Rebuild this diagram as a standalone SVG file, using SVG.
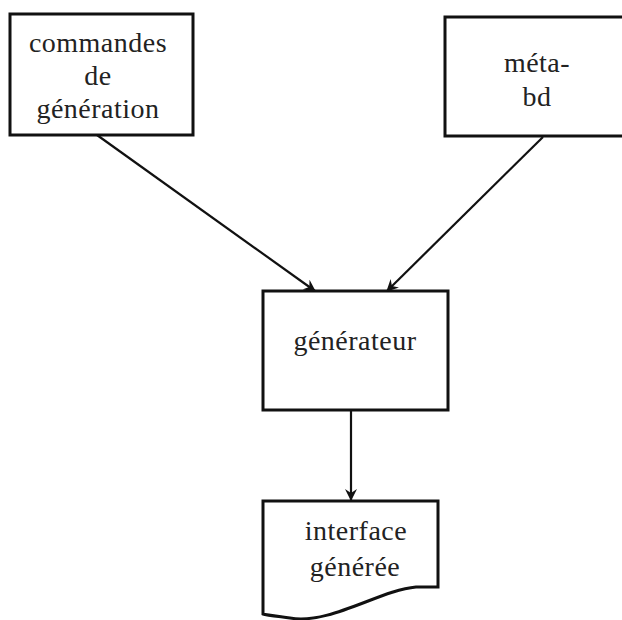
<svg xmlns="http://www.w3.org/2000/svg" width="622" height="620" viewBox="0 0 622 620">
<style>
.box{fill:none;stroke:#111;stroke-width:3}
.t{font-family:"Liberation Serif",serif;font-size:28px;fill:#222;text-anchor:middle;letter-spacing:0.5px}
.c{stroke:#111;stroke-width:2.2;fill:none}
</style>
<defs>
<marker id="ah" viewBox="0 0 12 12" refX="11" refY="6" markerWidth="12" markerHeight="12" markerUnits="userSpaceOnUse" orient="auto">
<path d="M0,0 L12,6 L0,12 L4,6 Z" fill="#111"/>
</marker>
</defs>
<rect width="622" height="620" fill="#fff"/>
<g id="commandes">
<rect class="box" x="10" y="14" width="183" height="121"/>
<text class="t" x="98" y="52">commandes</text>
<text class="t" x="98" y="85">de</text>
<text class="t" x="98" y="118">génération</text>
</g>
<g id="metabd">
<path class="box" d="M630,17 H445 V136 H630"/>
<text class="t" x="537" y="72">méta-</text>
<text class="t" x="537" y="106">bd</text>
</g>
<g id="generateur">
<rect class="box" x="263" y="291" width="185" height="119"/>
<text class="t" x="355" y="350">générateur</text>
</g>
<g id="interface">
<path class="box" d="M263,614 V501 H438 V587 H416 C380,590 330,625 290,618 C275,616 266,615 263,614 Z"/>
<text class="t" x="356" y="540">interface</text>
<text class="t" x="355" y="576">générée</text>
</g>
<g id="connectors">
<line class="c" x1="97" y1="135" x2="315" y2="291" marker-end="url(#ah)"/>
<line class="c" x1="543" y1="137" x2="387" y2="291" marker-end="url(#ah)"/>
<line class="c" x1="351" y1="410" x2="351" y2="500" marker-end="url(#ah)"/>
</g>
</svg>
